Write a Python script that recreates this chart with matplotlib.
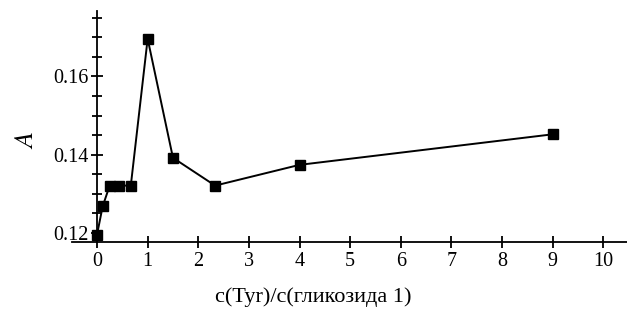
import matplotlib
matplotlib.use("Agg")
import matplotlib.pyplot as plt
from matplotlib.ticker import MultipleLocator

ratio = [0, 0.111, 0.25, 0.429, 0.667, 1.0, 1.5, 2.333, 4.0, 9.0]
absorb = [0.1196, 0.1268, 0.1321, 0.1321, 0.1321, 0.1696, 0.1392, 0.1321, 0.1374, 0.1452]
xticks = list(range(0, 11))
yticks = [0.12, 0.14, 0.16]

plt.rcParams['font.family'] = ['Liberation Serif', 'DejaVu Serif']
plt.rcParams['mathtext.fontset'] = 'stix'

fig = plt.figure(figsize=(6.27, 3.23), dpi=100)
ax = fig.add_axes([0.1144, 0.2508, 0.8856, 0.7152])

ax.plot(ratio, absorb, color='black', lw=1.4, marker='s', ms=6.5,
        markerfacecolor='black', markeredgecolor='black')

ax.set_xlim(-0.5, 10.47)
ax.set_ylim(0.1177, 0.1767)

ax.spines['top'].set_visible(False)
ax.spines['right'].set_visible(False)
ax.spines['left'].set_position(('data', 0))
for s in ('left', 'bottom'):
    ax.spines[s].set_linewidth(1.3)

ax.set_xticks(xticks)
ax.set_xticklabels([str(t) for t in xticks])
ax.set_yticks(yticks)
ax.set_yticklabels([f"{t:.2f}" for t in yticks])
ax.yaxis.set_minor_locator(MultipleLocator(0.005))

ax.tick_params(axis='both', which='major', direction='inout', length=8, width=1.3,
               labelsize=14.5, pad=2)
ax.tick_params(axis='y', which='minor', direction='inout', length=7, width=1.3)
ax.tick_params(axis='x', pad=3)

fig.text(313/627, 1 - 297/323, 'c(Tyr)/c(гликозида 1)', ha='center', va='center', fontsize=16)
fig.text(27/627, 1 - 140/323, r'$\mathit{A}$', ha='center', va='center', fontsize=19, rotation=90)

fig.savefig('out.png', dpi=100)
